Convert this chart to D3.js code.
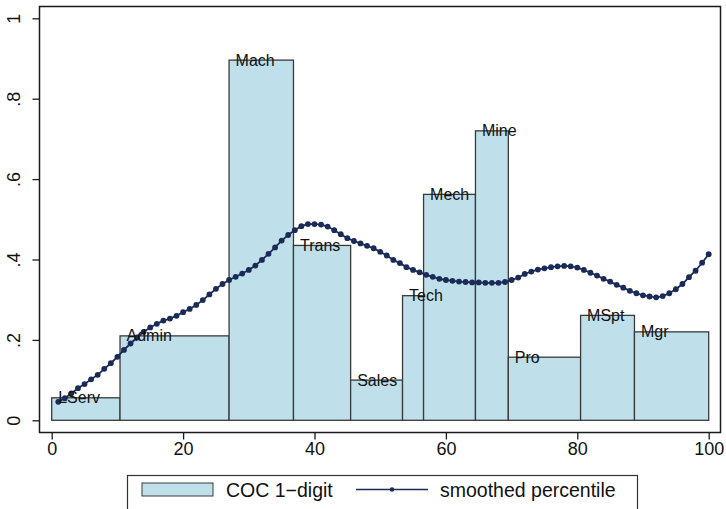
<!DOCTYPE html>
<html>
<head>
<meta charset="utf-8">
<script src="https://cdn.jsdelivr.net/npm/d3@7/dist/d3.min.js"></script>
<style>
  html, body { margin: 0; padding: 0; background: #ffffff; }
  svg { display: block; font-family: "Liberation Sans", Arial, Helvetica, sans-serif; }
</style>
</head>
<body>
<svg id="chart" width="726" height="509"></svg>
<script>
// Occupation groups (COC 1-digit), bin edges on the percentile axis and bar heights
const occLabels = ["LServ", "Admin", "Mach", "Trans", "Sales", "Tech", "Mech", "Mine", "Pro", "MSpt", "Mgr"];
const binStart  = [0, 10.4, 27.0, 36.8, 45.5, 53.4, 56.6, 64.5, 69.5, 80.5, 88.7];
const binEnd    = [10.4, 27.0, 36.8, 45.5, 53.4, 56.6, 64.5, 69.5, 80.5, 88.7, 100];
const barHeight = [0.056, 0.210, 0.896, 0.435, 0.100, 0.310, 0.562, 0.720, 0.157, 0.261, 0.220];

// Smoothed percentile curve, one point per percentile 1..100
const pctX = d3.range(1, 101);
const pctY = [
  0.046, 0.055, 0.067, 0.080, 0.090, 0.102, 0.113, 0.128, 0.142, 0.158,
  0.175, 0.191, 0.206, 0.220, 0.231, 0.240, 0.248, 0.253, 0.260, 0.269,
  0.277, 0.287, 0.299, 0.313, 0.327, 0.339, 0.349, 0.357, 0.365, 0.374,
  0.385, 0.399, 0.414, 0.430, 0.447, 0.461, 0.473, 0.483, 0.488, 0.488,
  0.487, 0.482, 0.473, 0.463, 0.453, 0.446, 0.440, 0.434, 0.428, 0.419,
  0.410, 0.399, 0.391, 0.381, 0.374, 0.368, 0.362, 0.357, 0.352, 0.349,
  0.347, 0.345, 0.344, 0.343, 0.343, 0.342, 0.342, 0.342, 0.344, 0.349,
  0.355, 0.364, 0.370, 0.375, 0.378, 0.381, 0.383, 0.384, 0.383, 0.380,
  0.374, 0.367, 0.360, 0.352, 0.345, 0.337, 0.330, 0.322, 0.316, 0.311,
  0.308, 0.306, 0.309, 0.316, 0.326, 0.339, 0.356, 0.372, 0.392, 0.413
];

const xTicks = [0, 20, 40, 60, 80, 100];
const yTicks = [0, 0.2, 0.4, 0.6, 0.8, 1];
const yTickLabels = ["0", ".2", ".4", ".6", ".8", "1"];
const legendLabels = ["COC 1\u2212digit", "smoothed percentile"];

const barFill = "#bfe0ea";
const barStroke = "#3a3a3a";
const lineColor = "#1b2b58";

const svg = d3.select("#chart");

// Plot region frame
const frame = { left: 39.5, top: 6.5, right: 720.5, bottom: 432.5 };

const x = d3.scaleLinear().domain([0, 100]).range([51.7, 708.7]);
const y = d3.scaleLinear().domain([0, 1]).range([420.3, 18.3]);

svg.append("rect")
  .attr("x", frame.left).attr("y", frame.top)
  .attr("width", frame.right - frame.left)
  .attr("height", frame.bottom - frame.top)
  .attr("fill", "#ffffff")
  .attr("stroke", "#1a1a1a")
  .attr("stroke-width", 1.5);

// Bars
const bars = occLabels.map((lab, i) => ({ lab, x0: binStart[i], x1: binEnd[i], h: barHeight[i] }));

svg.append("g").selectAll("rect")
  .data(bars)
  .join("rect")
  .attr("x", d => x(d.x0))
  .attr("y", d => y(d.h))
  .attr("width", d => x(d.x1) - x(d.x0))
  .attr("height", d => y(0) - y(d.h))
  .attr("fill", barFill)
  .attr("stroke", barStroke)
  .attr("stroke-width", 1.3);

// Smoothed line with markers
const line = d3.line().x((d, i) => x(pctX[i])).y(d => y(d));
svg.append("path")
  .datum(pctY)
  .attr("d", line)
  .attr("fill", "none")
  .attr("stroke", lineColor)
  .attr("stroke-width", 1.8);

svg.append("g").selectAll("circle")
  .data(pctY)
  .join("circle")
  .attr("cx", (d, i) => x(pctX[i]))
  .attr("cy", d => y(d))
  .attr("r", 2.9)
  .attr("fill", lineColor);

// Bar labels at the top-left corner of each bar
svg.append("g").selectAll("text")
  .data(bars)
  .join("text")
  .attr("x", d => x(d.x0) + 6.5)
  .attr("y", d => y(d.h))
  .attr("dy", "0.35em")
  .attr("font-size", 16)
  .attr("fill", "#111")
  .text(d => d.lab);

// X axis
const xAxis = d3.axisBottom(x)
  .tickValues(xTicks)
  .tickSize(7)
  .tickPadding(3)
  .tickFormat(d3.format("d"));

const gx = svg.append("g")
  .attr("transform", `translate(0,${frame.bottom})`)
  .call(xAxis);
gx.select(".domain").remove();
gx.selectAll("line").attr("stroke", "#1a1a1a").attr("stroke-width", 1.3);
gx.selectAll("text").attr("font-size", 18).attr("fill", "#111")
  .attr("font-family", "Liberation Sans, Arial, sans-serif");

// Y axis with rotated labels
const yAxis = d3.axisLeft(y)
  .tickValues(yTicks)
  .tickSize(7)
  .tickFormat((d, i) => yTickLabels[i]);

const gy = svg.append("g")
  .attr("transform", `translate(${frame.left},0)`)
  .call(yAxis);
gy.select(".domain").remove();
gy.selectAll("line").attr("stroke", "#1a1a1a").attr("stroke-width", 1.3);
gy.selectAll("text")
  .attr("font-size", 18).attr("fill", "#111")
  .attr("font-family", "Liberation Sans, Arial, sans-serif")
  .attr("x", null).attr("dy", null)
  .attr("text-anchor", "middle")
  .attr("transform", "translate(-20,0) rotate(-90)");

// Legend
const legend = svg.append("g");
legend.append("rect")
  .attr("x", 127.5).attr("y", 475.5)
  .attr("width", 510).attr("height", 44)
  .attr("fill", "#ffffff")
  .attr("stroke", "#333")
  .attr("stroke-width", 1.2);

legend.append("rect")
  .attr("x", 142).attr("y", 483)
  .attr("width", 71).attr("height", 13)
  .attr("fill", barFill)
  .attr("stroke", barStroke)
  .attr("stroke-width", 1);

legend.append("text")
  .attr("x", 226).attr("y", 496.5)
  .attr("font-size", 19.5).attr("fill", "#111")
  .text(legendLabels[0]);

legend.append("line")
  .attr("x1", 356).attr("x2", 428)
  .attr("y1", 489.5).attr("y2", 489.5)
  .attr("stroke", lineColor).attr("stroke-width", 1.6);
legend.append("circle")
  .attr("cx", 392).attr("cy", 489.5).attr("r", 2.3)
  .attr("fill", lineColor);

legend.append("text")
  .attr("x", 440).attr("y", 496.5)
  .attr("font-size", 19.5).attr("fill", "#111")
  .text(legendLabels[1]);
</script>
</body>
</html>
